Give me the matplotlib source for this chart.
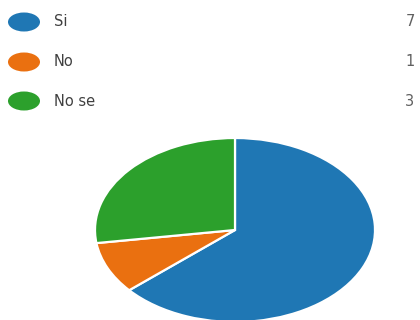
import matplotlib
matplotlib.use("Agg")
import matplotlib.pyplot as plt
from matplotlib.patches import Ellipse

categories = ["Si", "No", "No se"]
values = [7, 1, 3]
colors = ["#1f77b4", "#ea7010", "#2ca02c"]

W, H = 420, 320
fig = plt.figure(figsize=(W / 100, H / 100), dpi=100)
fig.patch.set_facecolor("white")

# Legend axes in pixel coordinates
lax = fig.add_axes([0, 0, 1, 1])
lax.set_xlim(0, W)
lax.set_ylim(H, 0)
lax.axis("off")
ys = [22, 62, 101]
for cat, val, col, y in zip(categories, values, colors, ys):
    lax.add_patch(Ellipse((24, y), 32, 19, color=col, lw=0))
    lax.text(54, y, cat, va="center", ha="left", fontsize=10.5,
             color="#404040", family="DejaVu Sans")
    lax.text(410, y, str(val), va="center", ha="center", fontsize=10.5,
             color="#606060", family="DejaVu Sans")

# Pie axes (stretched horizontally)
cx, cy = 235, 230
rx, ry = 140, 92
pax = fig.add_axes([(cx - rx) / W, (H - cy - ry) / H, 2 * rx / W, 2 * ry / H])
pax.pie(values, colors=colors, startangle=90, counterclock=False,
        wedgeprops=dict(edgecolor="white", linewidth=1.6))
pax.set_aspect("auto")
pax.set_xlim(-1.0, 1.0)
pax.set_ylim(-1.0, 1.0)
pax.axis("off")

fig.savefig("out.png", dpi=100, facecolor="white")
